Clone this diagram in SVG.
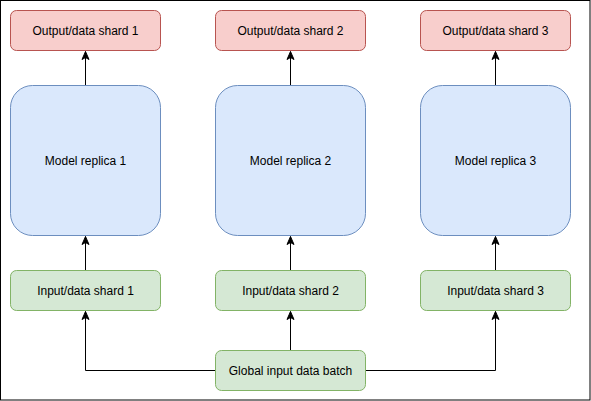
<svg xmlns="http://www.w3.org/2000/svg" width="591" height="401" viewBox="0 0 591 401">
<style>
.out{fill:#f8cecc;stroke:#b85450;stroke-width:1}
.mod{fill:#dae8fc;stroke:#6c8ebf;stroke-width:1}
.inp{fill:#d5e8d4;stroke:#82b366;stroke-width:1}
text{font-family:"Liberation Sans",Arial,sans-serif;font-size:12px;fill:#000;text-anchor:middle;dominant-baseline:central}
.edge{fill:none;stroke:#000;stroke-width:1}
</style>
<defs>
<marker id="arr" markerUnits="userSpaceOnUse" markerWidth="10" markerHeight="10" viewBox="0 0 10 10" refX="9" refY="5" orient="auto">
<path d="M1,1.5 L9,5 L1,8.5 L3,5 Z" fill="#000" stroke="#000" stroke-width="1"/>
</marker>
</defs>
<rect x="0.5" y="0.5" width="589.5" height="399.5" fill="#fff" stroke="#000"/>
<g id="connectors">
<path class="edge" d="M85.5,270.5 V236.5" marker-end="url(#arr)"/>
<path class="edge" d="M290.5,270.5 V236.5" marker-end="url(#arr)"/>
<path class="edge" d="M495.5,270.5 V236.5" marker-end="url(#arr)"/>
<path class="edge" d="M85.5,85.5 V51.5" marker-end="url(#arr)"/>
<path class="edge" d="M290.5,85.5 V51.5" marker-end="url(#arr)"/>
<path class="edge" d="M495.5,85.5 V51.5" marker-end="url(#arr)"/>
<path class="edge" d="M215.5,370.5 H85.5 V311.5" marker-end="url(#arr)"/>
<path class="edge" d="M290.5,350.5 V311.5" marker-end="url(#arr)"/>
<path class="edge" d="M365.5,370.5 H495.5 V311.5" marker-end="url(#arr)"/>
</g>
<g id="out1"><rect class="out" x="10.5" y="10.5" width="150" height="40" rx="6"/><text x="85.5" y="30.5">Output/data shard 1</text></g>
<g id="out2"><rect class="out" x="215.5" y="10.5" width="150" height="40" rx="6"/><text x="290.5" y="30.5">Output/data shard 2</text></g>
<g id="out3"><rect class="out" x="420.5" y="10.5" width="150" height="40" rx="6"/><text x="495.5" y="30.5">Output/data shard 3</text></g>
<g id="model1"><rect class="mod" x="10.5" y="85.5" width="150" height="150" rx="22"/><text x="85.5" y="160.5">Model replica 1</text></g>
<g id="model2"><rect class="mod" x="215.5" y="85.5" width="150" height="150" rx="22"/><text x="290.5" y="160.5">Model replica 2</text></g>
<g id="model3"><rect class="mod" x="420.5" y="85.5" width="150" height="150" rx="22"/><text x="495.5" y="160.5">Model replica 3</text></g>
<g id="in1"><rect class="inp" x="10.5" y="270.5" width="150" height="40" rx="6"/><text x="85.5" y="290.5">Input/data shard 1</text></g>
<g id="in2"><rect class="inp" x="215.5" y="270.5" width="150" height="40" rx="6"/><text x="290.5" y="290.5">Input/data shard 2</text></g>
<g id="in3"><rect class="inp" x="420.5" y="270.5" width="150" height="40" rx="6"/><text x="495.5" y="290.5">Input/data shard 3</text></g>
<g id="global"><rect class="inp" x="215.5" y="350.5" width="150" height="40" rx="6"/><text x="290.5" y="370.5">Global input data batch</text></g>
</svg>
